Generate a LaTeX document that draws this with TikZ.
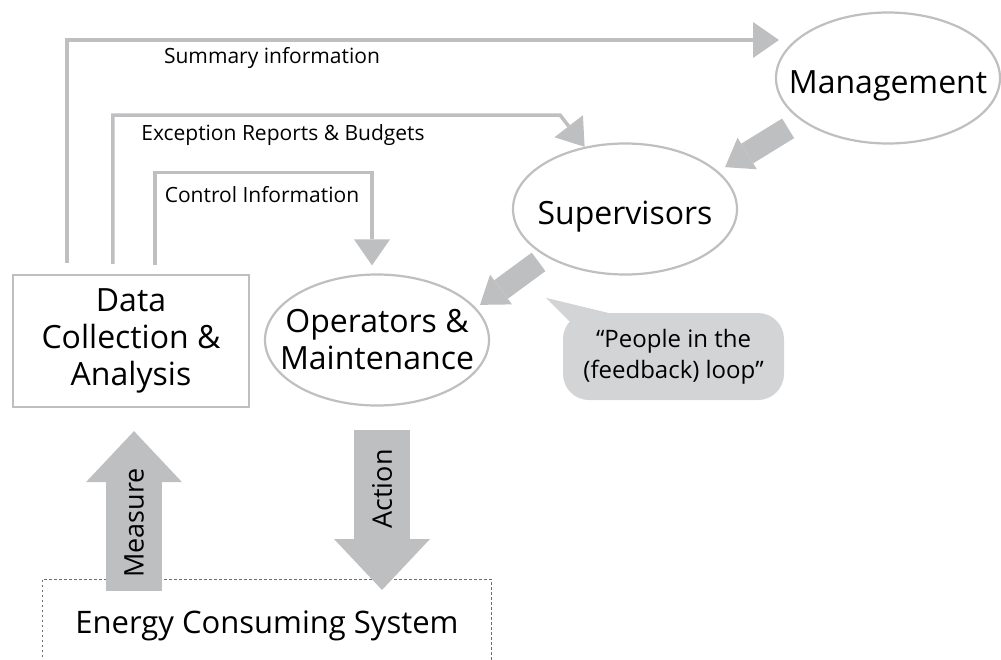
\documentclass[tikz,border=0pt]{standalone}
\usepackage{fontspec}
\setmainfont{Open Sans}
\usetikzlibrary{arrows.meta,calc,shapes.geometric}
\definecolor{linegray}{RGB}{190,191,193}
\definecolor{bubblegray}{RGB}{211,212,214}
\definecolor{framegray}{RGB}{110,110,110}

\begin{document}
\begin{tikzpicture}[x=1pt,y=-1pt,
	big/.style={font=\fontsize{32}{37}\selectfont,align=center},
	small/.style={font=\fontsize{21}{24}\selectfont},
	oval/.style={draw=linegray,line width=2.2pt,ellipse,minimum width=224pt,minimum height=131pt,inner xsep=-40pt,inner ysep=-5pt,big},
	oneline/.style={text height=30pt,text depth=0pt},
	info/.style={draw=linegray,line width=3.5pt,-{Triangle[length=26pt,width=36pt,line width=0pt 0]}},
	fat/.style={draw=linegray,line width=23pt,-{Triangle[length=26pt,width=37pt,line width=0pt 0]}},
	fatv/.style={draw=linegray,line width=56pt,-{Triangle[length=51pt,width=96pt,line width=0pt 0]}}]
	\useasboundingbox (0,0) rectangle (1001,659);
	% the system at the bottom
	\draw[framegray,line width=0.9pt,dash pattern=on 2.5pt off 2.5pt] (42,662) |- (491,579) -- (491,662);
	\node[font=\fontsize{31}{34}\selectfont,anchor=base] (energy) at (267,633) {Energy Consuming System};
	% people and data
	\node[draw=linegray,line width=2.2pt,minimum width=236pt,minimum height=132pt,inner sep=0pt,big] (data) at (131,341) {Data\\Collection \&\\Analysis};
	\node[oval] (op) at (377,340) {Operators \&\\Maintenance};
	\node[oval,oneline] (sup) at (625,209) {Supervisors};
	\node[oval,oneline] (mgmt) at (888,78) {Management};
	% information going up
	\draw[info] ($(data.north west)+(55,-11)$) |- ($(mgmt)+(-109,-38)$);
	\draw[info] ($(data.north west)+(101,-10)$) |- ($(sup)+(-65,-94)$) -- (sup.123);
	\draw[info] ($(data.north west)+(143,-9)$) |- ($(op.north)+(-5,-101)$) -- ($(op.north)+(-5,-8)$);
	\node[small] (sumlbl) at (272,58) {Summary information};
	\node[small] (exclbl) at (283,135) {Exception Reports \& Budgets};
	\node[small] (ctllbl) at (262,195) {Control Information};
	% orders going down
	\draw[fat,shorten <=15pt,shorten >=8pt] (mgmt.206) -- (sup.22);
	\draw[fat,shorten <=9pt,shorten >=5pt] (sup.211) -- (op.18);
	% measure and act
	\coordinate (meastail) at (134,591);
	\coordinate (acttip) at (382,590);
	\draw[fatv,shorten >=23pt] (meastail) -- (meastail |- data.south);
	\draw[fatv,shorten <=23pt] (acttip |- op.south) -- (acttip);
	\node[rotate=90,font=\fontsize{27}{30}\selectfont] (measlbl) at (134,523) {Measure};
	\node[rotate=90,font=\fontsize{27}{30}\selectfont] (actlbl) at (382,489) {Action};
	% the callout
	\node[fill=bubblegray,rounded corners=26pt,minimum width=221pt,minimum height=87pt,align=center,font=\fontsize{24}{31}\selectfont] (bubble) at (673.5,356.5) {“People in the\\(feedback) loop”};
	\fill[bubblegray] ([shift={(-17,-15)}]bubble.north west) -- ([shift={(12,14)}]bubble.north west) -- ([shift={(45,0)}]bubble.north west) -- cycle;
\end{tikzpicture}
\end{document}
